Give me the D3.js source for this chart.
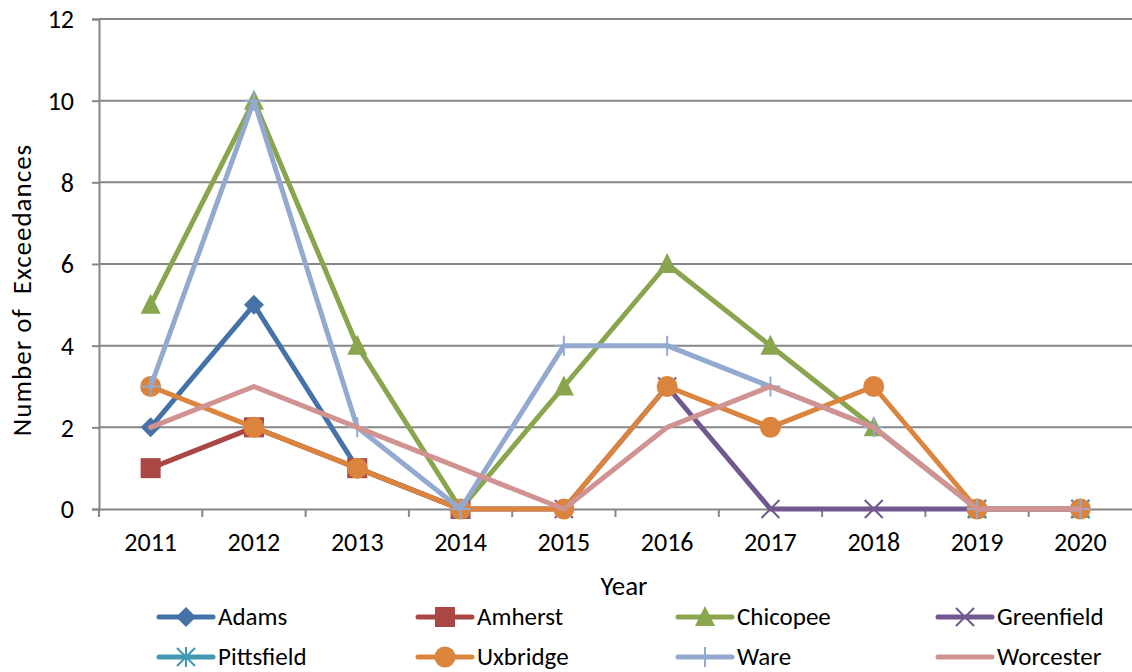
<!DOCTYPE html>
<html>
<head>
<meta charset="utf-8">
<script src="https://cdn.jsdelivr.net/npm/d3@7"></script>
<style>
  html, body { margin: 0; padding: 0; background: #fff; }
  svg { display: block; }
  text { font-family: Carlito, Lato, "Noto Sans", sans-serif; fill: #000; }
</style>
</head>
<body>
<svg id="chart" width="1132" height="672"></svg>
<script>
// Annual exceedance counts per monitoring site
const years = ["2011", "2012", "2013", "2014", "2015", "2016", "2017", "2018", "2019", "2020"];
const sites = ["Adams", "Amherst", "Chicopee", "Greenfield", "Pittsfield", "Uxbridge", "Ware", "Worcester"];

const adams      = [2, 5, 1, 0, null, null, null, null, null, null];
const amherst    = [1, 2, 1, 0, null, null, null, null, null, null];
const chicopee   = [5, 10, 4, 0, 3, 6, 4, 2, 0, 0];
const greenfield = [null, null, null, 0, 0, 3, 0, 0, 0, 0];
const pittsfield = [null, null, null, null, null, null, null, null, 0, 0];
const uxbridge   = [3, 2, 1, 0, 0, 3, 2, 3, 0, 0];
const ware       = [3, 10, 2, 0, 4, 4, 3, 2, 0, 0];
const worcester  = [2, 3, 2, 1, 0, 2, 3, 2, 0, 0];

const yTicks = [0, 2, 4, 6, 8, 10, 12];

const seriesValues = [adams, amherst, chicopee, greenfield, pittsfield, uxbridge, ware, worcester];
const colors  = ["#4572A7", "#AA4643", "#89A54E", "#71588F", "#4198AF", "#DB843D", "#93A9CF", "#D19392"];
const markers = ["diamond", "square", "triangle", "x", "star", "circle", "plus", "none"];

const series = sites.map((name, i) => ({
  name, color: colors[i], marker: markers[i],
  values: years.map((yr, j) => ({ year: yr, value: seriesValues[i][j] }))
}));

const svg = d3.select("#chart");
const margin = { left: 99, right: 0, top: 19, bottom: 163 };
const W = 1132, H = 672;
const plotW = W - margin.left - margin.right;
const plotH = H - margin.top - margin.bottom;

const x = d3.scaleBand().domain(years).range([margin.left, margin.left + plotW]);
const y = d3.scaleLinear().domain([0, 12]).range([margin.top + plotH, margin.top]);
const cx = d => x(d) + x.bandwidth() / 2;

const axisColor = "#868686";

// horizontal gridlines
svg.append("g")
  .selectAll("line")
  .data(yTicks.filter(t => t > 0))
  .join("line")
  .attr("x1", margin.left).attr("x2", margin.left + plotW)
  .attr("y1", d => y(d)).attr("y2", d => y(d))
  .attr("stroke", axisColor).attr("stroke-width", 2);

// y axis
const yAxis = svg.append("g")
  .attr("transform", `translate(${margin.left},0)`)
  .call(d3.axisLeft(y).tickValues(yTicks).tickSize(7).tickPadding(18));
yAxis.select(".domain").attr("stroke", axisColor).attr("stroke-width", 2);
yAxis.selectAll(".tick line").attr("stroke", axisColor).attr("stroke-width", 2);
yAxis.selectAll(".tick text").style("font-size", "26px").attr("dy", "0.34em");

// x axis: ticks sit on the category boundaries
const xAxis = svg.append("g")
  .attr("transform", `translate(0,${y(0)})`)
  .call(d3.axisBottom(x).tickSize(0).tickPadding(24));
xAxis.select(".domain").attr("stroke", axisColor).attr("stroke-width", 2);
xAxis.selectAll(".tick text").style("font-size", "26px");
svg.append("g")
  .selectAll("line")
  .data(years)
  .join("line")
  .attr("x1", d => x(d)).attr("x2", d => x(d))
  .attr("y1", y(0)).attr("y2", y(0) + 8)
  .attr("stroke", axisColor).attr("stroke-width", 2);

// axis titles
svg.append("text")
  .attr("x", 624)
  .attr("y", 595)
  .attr("text-anchor", "middle")
  .style("font-size", "27px")
  .text("Year");
svg.append("text")
  .attr("transform", "translate(31,290) rotate(-90)")
  .attr("text-anchor", "middle")
  .style("font-size", "27px")
  .style("letter-spacing", "1px")
  .style("white-space", "pre")
  .text("Number of  Exceedances");

// marker drawing
function drawMarker(g, type, color) {
  switch (type) {
    case "diamond":
      g.append("path").attr("d", "M0,-10L10,0L0,10L-10,0Z").attr("fill", color);
      break;
    case "square":
      g.append("rect").attr("x", -10).attr("y", -10).attr("width", 20).attr("height", 20).attr("fill", color);
      break;
    case "triangle":
      g.append("path").attr("d", "M0,-11L10,9L-10,9Z").attr("fill", color);
      break;
    case "circle":
      g.append("circle").attr("r", 10.5).attr("fill", color);
      break;
    case "x":
      g.append("path").attr("d", "M-9,-9L9,9M-9,9L9,-9").attr("stroke", color).attr("stroke-width", 2).attr("fill", "none");
      break;
    case "star":
      g.append("path").attr("d", "M-9,-9L9,9M-9,9L9,-9M0,-10L0,10").attr("stroke", color).attr("stroke-width", 2).attr("fill", "none");
      break;
    case "plus":
      g.append("path").attr("d", "M0,-10L0,10M-10,0L10,0").attr("stroke", color).attr("stroke-width", 2).attr("fill", "none");
      break;
  }
}

const line = d3.line()
  .defined(d => d.value !== null)
  .x(d => cx(d.year))
  .y(d => y(d.value));

const plot = svg.append("g");
series.forEach(s => {
  const g = plot.append("g");
  g.append("path")
    .datum(s.values)
    .attr("d", line)
    .attr("fill", "none")
    .attr("stroke", s.color)
    .attr("stroke-width", 5)
    .attr("stroke-linejoin", "round")
    .attr("stroke-linecap", "round");
  s.values.filter(d => d.value !== null).forEach(d => {
    const m = g.append("g").attr("transform", `translate(${cx(d.year)},${y(d.value)})`);
    drawMarker(m, s.marker, s.color);
  });
});

// legend: two rows of four
const legendCols = [159, 418, 678, 938];
const legendRows = [617, 657];
const legend = svg.append("g");
series.forEach((s, i) => {
  const lx = legendCols[i % 4], ly = legendRows[Math.floor(i / 4)];
  const g = legend.append("g");
  g.append("line")
    .attr("x1", lx).attr("x2", lx + 54)
    .attr("y1", ly).attr("y2", ly)
    .attr("stroke", s.color).attr("stroke-width", 5).attr("stroke-linecap", "round");
  const m = g.append("g").attr("transform", `translate(${lx + 27},${ly})`);
  drawMarker(m, s.marker, s.color);
  g.append("text")
    .attr("x", lx + 59).attr("y", ly)
    .attr("dy", "0.3em")
    .style("font-size", "25px")
    .text(s.name);
});
</script>
</body>
</html>
